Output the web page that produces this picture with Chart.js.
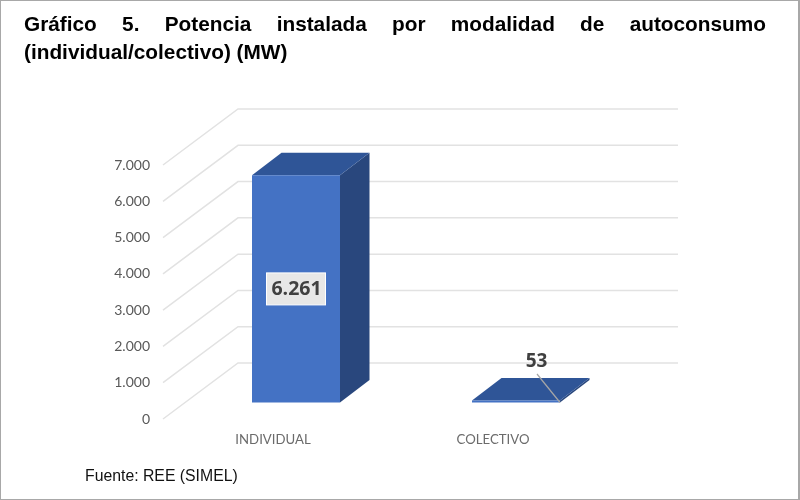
<!DOCTYPE html>
<html lang="es">
<head>
<meta charset="utf-8">
<title>Gráfico 5</title>
<script src="https://cdn.jsdelivr.net/npm/chart.js@4"></script>
<style>
    html, body { margin: 0; padding: 0; background: #fff; }
    #wrap { position: relative; width: 800px; height: 500px; overflow: hidden; box-sizing: border-box; border: 1px solid #a8a8a8; border-right-width: 2px; }
    #chart { position: absolute; left: -1px; top: -1px; }
    #title { position: absolute; left: 23px; top: 9px; width: 742px; font: bold 20.8px/27.5px "Liberation Sans", Arial, sans-serif; color: #000; }
    #title .first { text-align: justify; text-align-last: justify; }
    #source { position: absolute; left: 84px; top: 466px; font: 15.8px/18px "Liberation Sans", Arial, sans-serif; color: #111; }
</style>
</head>
<body>
<div id="wrap">
    <canvas id="chart" width="800" height="500"></canvas>
    <div id="title">
        <div class="first">Gráfico 5. Potencia instalada por modalidad de autoconsumo</div>
        <div>(individual/colectivo) (MW)</div>
    </div>
    <div id="source">Fuente: REE (SIMEL)</div>
</div>
<script>
const categories = ['INDIVIDUAL', 'COLECTIVO'];
const potenciaMW = [6261, 53];
const yTickLabels = ['0', '1.000', '2.000', '3.000', '4.000', '5.000', '6.000', '7.000'];
const valueLabels = ['6.261', '53'];

// The chart area is the front edge of the 3D floor, everything else is offset from it
const WALL_DX = 75, WALL_DY = -56;   // floor front edge -> back wall
const BAR_DX = 23, BAR_DY = -16.5;   // floor front edge -> bar front face
const DEPTH_DX = 29.5, DEPTH_DY = -22.5; // bar front face -> bar back face

function face(ctx, pts, color) {
    ctx.fillStyle = color;
    ctx.beginPath();
    pts.forEach((p, i) => i ? ctx.lineTo(p[0], p[1]) : ctx.moveTo(p[0], p[1]));
    ctx.closePath();
    ctx.fill();
}

const fake3d = {
    id: 'fake3d',
    beforeDatasetsDraw(chart) {
        const ctx = chart.ctx, area = chart.chartArea, y = chart.scales.y;
        // walls: slanted side wall + horizontal back wall lines
        ctx.save();
        ctx.strokeStyle = '#e2e2e2';
        ctx.lineWidth = 1.5;
        y.ticks.forEach(t => {
            const py = y.getPixelForValue(t.value);
            ctx.beginPath();
            ctx.moveTo(area.left, py);
            ctx.lineTo(area.left + WALL_DX, py + WALL_DY);
            ctx.lineTo(area.right + WALL_DX, py + WALL_DY);
            ctx.stroke();
        });
        ctx.restore();

        // top and side of each bar
        chart.getDatasetMeta(0).data.forEach(bar => {
            const l = bar.x - bar.width / 2 + BAR_DX, r = bar.x + bar.width / 2 + BAR_DX;
            const t = bar.y + BAR_DY, b = bar.base + BAR_DY;
            face(ctx, [[r, t], [r + DEPTH_DX, t + DEPTH_DY], [r + DEPTH_DX, b + DEPTH_DY], [r, b]], '#29477d');
            face(ctx, [[l, t], [l + DEPTH_DX, t + DEPTH_DY], [r + DEPTH_DX, t + DEPTH_DY], [r, t]], '#2f5597');
        });

        // native bars get pushed back onto their plane
        ctx.save();
        ctx.translate(BAR_DX, BAR_DY);
    },
    afterDatasetsDraw(chart) {
        const ctx = chart.ctx;
        ctx.restore();

        const bars = chart.getDatasetMeta(0).data;
        ctx.save();
        ctx.textAlign = 'center';
        ctx.textBaseline = 'middle';

        // 6.261, boxed label in the middle of the bar
        const big = bars[0];
        const cx = big.x + BAR_DX, cy = (big.y + big.base) / 2 + BAR_DY;
        ctx.fillStyle = '#e7e7e7';
        ctx.strokeStyle = '#ffffff';
        ctx.lineWidth = 1;
        ctx.fillRect(cx - 29.5, cy - 16, 59, 32);
        ctx.strokeRect(cx - 29.5, cy - 16, 59, 32);
        ctx.fillStyle = '#404040';
        ctx.font = 'bold 19.5px "Open Sans", sans-serif';
        ctx.fillText(valueLabels[0], cx + 0.5, cy + 1);

        // 53, floats above with a leader line
        const small = bars[1];
        const right = small.x + small.width / 2 + BAR_DX;
        ctx.strokeStyle = '#a6a6a6';
        ctx.lineWidth = 1.2;
        ctx.beginPath();
        ctx.moveTo(right - 23, small.base + BAR_DY - 28.5);
        ctx.lineTo(right, small.base + BAR_DY);
        ctx.stroke();
        ctx.fillStyle = '#404040';
        ctx.font = 'bold 19px "Open Sans", sans-serif';
        ctx.fillText(valueLabels[1], right - 23.5, small.base + BAR_DY - 40.5);
        ctx.restore();
    }
};

new Chart(document.getElementById('chart').getContext('2d'), {
    type: 'bar',
    data: {
        labels: categories,
        datasets: [{
            data: potenciaMW,
            backgroundColor: '#4472c4',
            borderWidth: 0,
            barPercentage: 0.4,
            categoryPercentage: 1,
            clip: false
        }]
    },
    options: {
        responsive: false,
        animation: false,
        layout: { padding: { left: 103, right: 197, top: 165, bottom: 0 } },
        plugins: { legend: { display: false }, tooltip: { enabled: false } },
        scales: {
            x: {
                grid: { display: false },
                border: { display: false },
                ticks: { color: '#6b6b6b', font: { family: 'Lato', size: 13.2 }, padding: 5, maxRotation: 0 },
                afterFit: s => { s.height = 81; }
            },
            y: {
                min: 0,
                max: 7000,
                grid: { display: false },
                border: { display: false },
                ticks: {
                    stepSize: 1000,
                    color: '#595959',
                    font: { family: 'Lato', size: 14 },
                    padding: 5,
                    callback: (v, i) => yTickLabels[i]
                },
                afterFit: s => { s.width = 60; }
            }
        }
    },
    plugins: [fake3d]
});
</script>
</body>
</html>
